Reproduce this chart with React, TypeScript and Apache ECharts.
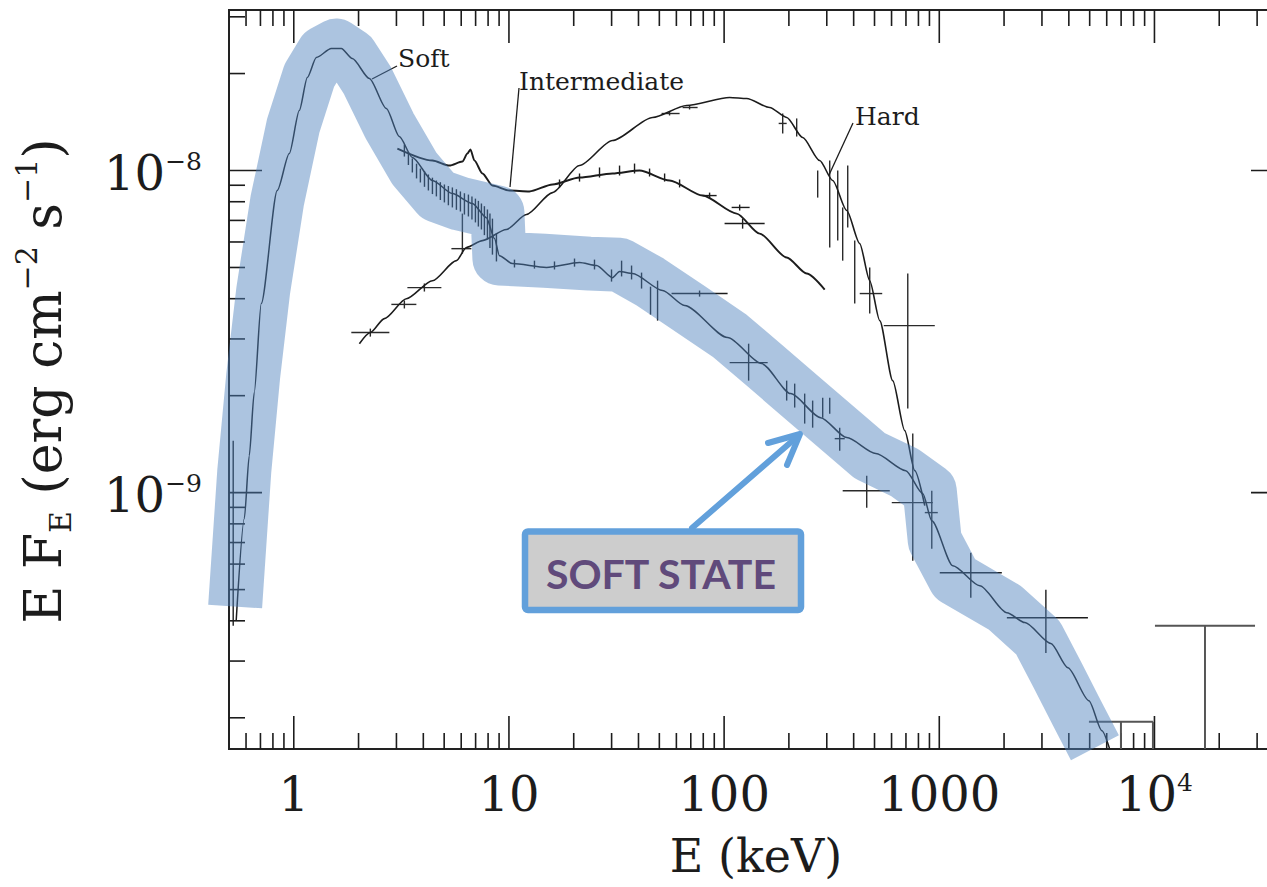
import React, { useEffect, useRef } from "react";
import * as echarts from "echarts";

// ---------- axis ranges ----------
const X_MIN = 0.5;
const X_MAX = 4e4;
const Y_MIN = 1.6e-10;
const Y_MAX = 3.15e-8;

// ---------- ticks & tick labels ----------
const xMajorTicks = [1, 10, 100, 1000, 10000];
const xMinorTicks = [
  0.6, 0.7, 0.8, 0.9,
  2, 3, 4, 5, 6, 7, 8, 9,
  20, 30, 40, 50, 60, 70, 80, 90,
  200, 300, 400, 500, 600, 700, 800, 900,
  2000, 3000, 4000, 5000, 6000, 7000, 8000, 9000,
  20000, 30000,
];
const yMajorTicks = [1e-9, 1e-8];
const yMinorTicks = [
  2e-10, 3e-10, 4e-10, 5e-10, 6e-10, 7e-10, 8e-10, 9e-10,
  2e-9, 3e-9, 4e-9, 5e-9, 6e-9, 7e-9, 8e-9, 9e-9,
  2e-8, 3e-8,
];
const xLabelValues = [1, 10, 100, 1000, 10000];
const xLabelBase = ["1", "10", "100", "1000", "10"];
const xLabelExp = ["", "", "", "", "4"];
const yLabelValues = [1e-9, 1e-8];
const yLabelBase = ["10", "10"];
const yLabelExp = ["\u22129", "\u22128"];

// ---------- model curves (E in keV, E F_E in erg cm^-2 s^-1) ----------
const softE = [0.54, 0.589, 0.621, 0.655, 0.706, 0.838, 0.953, 1.061, 1.156, 1.273, 1.494, 1.663, 1.871, 2.245, 2.693, 3.095, 3.557, 4.409, 5.459, 6.765, 7.857, 8.563, 9.034, 10.38, 14.94, 21.28, 25.53, 30.29, 32.66, 37.54, 51.76, 65.52, 103.8, 149.4, 203.9, 281.0, 371.4, 506.8, 698.6, 838.1, 922.8, 1156, 1543, 2061, 2500, 3301, 3960, 4960, 5700, 6210];
const softF = [4.0e-10, 8.31e-10, 1.302e-9, 2.044e-9, 3.864e-9, 8.67e-9, 1.129e-8, 1.536e-8, 1.944e-8, 2.243e-8, 2.392e-8, 2.392e-8, 2.227e-8, 1.931e-8, 1.558e-8, 1.275e-8, 1.098e-8, 9.31e-9, 8.48e-9, 7.9e-9, 7.14e-9, 6.15e-9, 5.44e-9, 5.14e-9, 5.0e-9, 5.18e-9, 5.07e-9, 4.65e-9, 4.86e-9, 4.79e-9, 4.24e-9, 3.81e-9, 3.03e-9, 2.515e-9, 2.03e-9, 1.709e-9, 1.482e-9, 1.322e-9, 1.17e-9, 9.93e-10, 8.18e-10, 5.93e-10, 5.14e-10, 4.24e-10, 3.95e-10, 3.4e-10, 2.86e-10, 2.26e-10, 1.823e-10, 1.592e-10];

const interE = [3.03, 4.409, 5.287, 6.076, 6.412, 6.622, 6.912, 7.53, 8.381, 10.05, 12.45, 15.94, 21.28, 30.29, 40.46, 55.78, 79.43, 114.3, 146.3, 195.3, 241.9, 293.4];
const interF = [1.17e-8, 1.074e-8, 1.036e-8, 1.066e-8, 1.129e-8, 1.162e-8, 1.074e-8, 9.79e-9, 8.98e-9, 8.67e-9, 8.61e-9, 9.05e-9, 9.51e-9, 9.79e-9, 1.0e-8, 9.31e-9, 8.36e-9, 7.35e-9, 6.37e-9, 5.37e-9, 4.79e-9, 4.27e-9];

const hardE = [2.018, 2.269, 2.636, 3.336, 4.409, 5.698, 6.343, 7.53, 9.73, 12.06, 15.94, 21.28, 30.29, 46.5, 66.93, 106.1, 127.3, 162.8, 195.3, 231.8, 278.0, 319.6, 371.4, 426.8, 475.0, 528.7, 607.6, 691, 769.2, 856.3];
const hardF = [2.9e-9, 3.14e-9, 3.47e-9, 4.0e-9, 4.55e-9, 5.25e-9, 5.77e-9, 6.06e-9, 6.56e-9, 7.3e-9, 8.54e-9, 1.036e-8, 1.239e-8, 1.461e-8, 1.591e-8, 1.685e-8, 1.673e-8, 1.569e-8, 1.461e-8, 1.266e-8, 1.074e-8, 9.31e-9, 7.51e-9, 5.93e-9, 4.55e-9, 3.42e-9, 2.227e-9, 1.558e-9, 1.17e-9, 9.11e-10];

// ---------- highlighted soft-state band ----------
const bandE = [0.534, 0.589, 0.648, 0.721, 0.838, 0.995, 1.181, 1.371, 1.576, 1.851, 2.197, 2.781, 3.635, 4.65, 5.886, 8.84, 9.03, 14.63, 23.68, 32.66, 45.03, 69.1, 106.1, 154.3, 224.5, 326.6, 475.0, 691, 903, 953, 1181, 2017, 2872, 3557, 4360, 5288];
const bandF = [4.43e-10, 1.17e-9, 2.309e-9, 4.24e-9, 8.07e-9, 1.38e-8, 1.972e-8, 2.325e-8, 2.444e-8, 2.276e-8, 1.904e-8, 1.38e-8, 1.014e-8, 8.36e-9, 7.9e-9, 7.41e-9, 5.33e-9, 5.25e-9, 5.14e-9, 5.1e-9, 4.52e-9, 3.73e-9, 3.07e-9, 2.48e-9, 2.0e-9, 1.614e-9, 1.302e-9, 1.154e-9, 1.014e-9, 7.09e-10, 5.41e-10, 4.39e-10, 3.55e-10, 2.7e-10, 2.07e-10, 1.614e-10];

// ---------- data points: [E, F, Elo, Ehi, Flo, Fhi] ----------
const softPoints = [
  [0.523, 7.62e-10, 0.523, 0.523, 3.86e-10, 1.45e-9],
  [3.266, 1.154e-8, 3.266, 3.266, 1.105e-8, 1.204e-8],
  [3.41, 1.09e-8, 3.41, 3.41, 1.04e-8, 1.14e-8],
  [3.557, 1.036e-8, 3.557, 3.557, 9.86e-9, 1.09e-8],
  [3.72, 9.95e-9, 3.72, 3.72, 9.45e-9, 1.05e-8],
  [3.876, 9.65e-9, 3.876, 3.876, 9.18e-9, 1.014e-8],
  [4.05, 9.4e-9, 4.05, 4.05, 8.9e-9, 9.95e-9],
  [4.223, 9.18e-9, 4.223, 4.223, 8.67e-9, 9.72e-9],
  [4.41, 8.98e-9, 4.41, 4.41, 8.45e-9, 9.5e-9],
  [4.6, 8.79e-9, 4.6, 4.6, 8.31e-9, 9.31e-9],
  [4.8, 8.62e-9, 4.8, 4.8, 8.1e-9, 9.2e-9],
  [5.012, 8.48e-9, 5.012, 5.012, 7.96e-9, 9.05e-9],
  [5.23, 8.36e-9, 5.23, 5.23, 7.8e-9, 8.95e-9],
  [5.459, 8.24e-9, 5.459, 5.459, 7.68e-9, 8.86e-9],
  [5.7, 8.12e-9, 5.7, 5.7, 7.55e-9, 8.75e-9],
  [5.949, 8.01e-9, 5.949, 5.949, 7.46e-9, 8.61e-9],
  [6.21, 7.9e-9, 6.21, 6.21, 7.3e-9, 8.5e-9],
  [6.481, 7.79e-9, 6.481, 6.481, 7.2e-9, 8.42e-9],
  [6.73, 7.65e-9, 6.73, 6.73, 7.05e-9, 8.3e-9],
  [6.986, 7.51e-9, 6.986, 6.986, 6.9e-9, 8.18e-9],
  [7.21, 7.35e-9, 7.21, 7.21, 6.7e-9, 8.05e-9],
  [7.449, 7.2e-9, 7.449, 7.449, 6.56e-9, 7.9e-9],
  [7.69, 7.0e-9, 7.69, 7.69, 6.3e-9, 7.75e-9],
  [7.943, 6.8e-9, 7.943, 7.943, 6.11e-9, 7.57e-9],
  [8.16, 6.5e-9, 8.16, 8.16, 5.75e-9, 7.35e-9],
  [8.381, 6.24e-9, 8.381, 8.381, 5.48e-9, 7.09e-9],
  [8.748, 5.77e-9, 8.748, 8.748, 5.22e-9, 6.37e-9],
  [10.61, 5.14e-9, 10.61, 10.61, 5.0e-9, 5.29e-9],
  [13.14, 5.1e-9, 13.14, 13.14, 4.96e-9, 5.25e-9],
  [16.28, 5.07e-9, 16.28, 16.28, 4.93e-9, 5.22e-9],
  [20.17, 5.18e-9, 20.17, 20.17, 5.03e-9, 5.33e-9],
  [24.98, 5.1e-9, 24.98, 24.98, 4.93e-9, 5.29e-9],
  [29.97, 4.72e-9, 29.97, 29.97, 4.52e-9, 4.93e-9],
  [33.38, 4.96e-9, 33.38, 33.38, 4.69e-9, 5.25e-9],
  [37.14, 4.82e-9, 37.14, 37.14, 4.59e-9, 5.07e-9],
  [41.33, 4.55e-9, 41.33, 41.33, 4.3e-9, 4.82e-9],
  [45.5, 3.95e-9, 45.5, 45.5, 3.57e-9, 4.36e-9],
  [49.06, 3.95e-9, 49.06, 49.06, 3.42e-9, 4.55e-9],
  [76.9, 4.15e-9, 56.98, 103.8, 4.06e-9, 4.24e-9],
  [130.0, 2.533e-9, 106.1, 159.4, 2.227e-9, 2.9e-9],
  [195.3, 2.074e-9, 195.3, 195.3, 1.931e-9, 2.227e-9],
  [212.8, 2.0e-9, 212.8, 212.8, 1.837e-9, 2.18e-9],
  [236.8, 1.824e-9, 236.8, 236.8, 1.638e-9, 2.03e-9],
  [257.9, 1.759e-9, 257.9, 257.9, 1.591e-9, 1.931e-9],
  [287.2, 1.837e-9, 287.2, 287.2, 1.709e-9, 1.972e-9],
  [309.6, 1.864e-9, 309.6, 309.6, 1.759e-9, 1.972e-9],
  [344.5, 1.471e-9, 326.6, 363.5, 1.35e-9, 1.591e-9],
  [1401, 5.64e-10, 1005, 1953, 4.72e-10, 6.51e-10],
  [3129, 4.09e-10, 2061, 4907, 3.18e-10, 4.999e-10],
];
const hardPoints = [
  [2.269, 3.14e-9, 1.851, 2.781, 3.05e-9, 3.23e-9],
  [3.266, 3.84e-9, 2.841, 3.713, 3.73e-9, 3.95e-9],
  [4.046, 4.33e-9, 3.373, 4.853, 4.21e-9, 4.46e-9],
  [6.076, 5.72e-9, 5.402, 6.69, 5.52e-9, 7.35e-9],
  [55.78, 1.503e-8, 51.2, 62.1, 1.482e-8, 1.525e-8],
  [69.1, 1.569e-8, 64.1, 75.3, 1.547e-8, 1.591e-8],
  [187.2, 1.4e-8, 179.3, 195.3, 1.303e-8, 1.503e-8],
  [217.4, 1.35e-8, 217.4, 217.4, 1.275e-8, 1.451e-8],
  [272.2, 9.11e-9, 272.2, 272.2, 8.24e-9, 1.0e-8],
  [309.6, 7.79e-9, 309.6, 309.6, 5.77e-9, 1.074e-8],
  [337.3, 8.07e-9, 337.3, 337.3, 6.06e-9, 1.0e-8],
  [355.7, 6.37e-9, 355.7, 355.7, 5.25e-9, 7.68e-9],
  [375.4, 8.36e-9, 375.4, 375.4, 6.65e-9, 1.036e-8],
  [404.6, 4.82e-9, 404.6, 404.6, 3.864e-9, 6.06e-9],
  [475.0, 4.15e-9, 426.8, 543, 3.6e-9, 5.0e-9],
  [713.7, 3.3e-9, 552, 953, 1.824e-9, 4.79e-9],
  [460, 1.014e-9, 355.7, 588.7, 8.98e-10, 1.129e-9],
  [752.9, 9.31e-10, 601.4, 932.8, 6.15e-10, 1.525e-9],
  [922.8, 8.67e-10, 856.3, 984, 6.7e-10, 1.014e-9],
];
const interPoints = [
  [121.9, 6.85e-9, 100.5, 154.3, 6.6e-9, 7.09e-9],
  [118.1, 7.68e-9, 108.4, 131.4, 7.51e-9, 7.84e-9],
  [85.6, 8.36e-9, 79.4, 92.3, 8.18e-9, 8.54e-9],
  [17.18, 9.11e-9, 17.18, 17.18, 8.86e-9, 9.38e-9],
  [21.28, 9.51e-9, 21.28, 21.28, 9.24e-9, 9.79e-9],
  [26.36, 9.86e-9, 26.36, 26.36, 9.51e-9, 1.022e-8],
  [32.66, 1.0e-8, 32.66, 32.66, 9.65e-9, 1.036e-8],
  [38.34, 1.014e-8, 38.34, 38.34, 9.79e-9, 1.051e-8],
  [45.03, 9.86e-9, 45.03, 45.03, 9.58e-9, 1.014e-8],
  [52.9, 9.51e-9, 52.9, 52.9, 9.24e-9, 9.79e-9],
  [62.1, 9.11e-9, 62.1, 62.1, 8.86e-9, 9.38e-9],
];
// upper limits: [E of arrow, F top, Elo, Ehi]
const upperLimits = [
  [17170, 3.86e-10, 10054, 29340],
  [6987, 1.944e-10, 4960, 9840],
  [9840, 1.944e-10, 9840, 9840],
];

const SERIF = "'DejaVu Serif', 'Liberation Serif', serif";
const INK = "#1c1c1c";
const BLUE = "#62A0DB";

const al = (h: string, v: string) => ({ align: h, textAlign: h, verticalAlign: v, textVerticalAlign: v });

export default function App() {
  const ref = useRef<HTMLDivElement>(null);

  useEffect(() => {
    document.body.style.margin = "0";
    document.body.style.overflow = "hidden";
    const chart = echarts.init(ref.current!, null, { renderer: "svg" });

    const pairs = (xs: number[], ys: number[]) => xs.map((x, i) => [x, ys[i]]);

    const tickSeries = (vals: number[], axis: "x" | "y", len: number) => ({
      type: "custom",
      coordinateSystem: "cartesian2d",
      clip: false,
      silent: true,
      z: 3,
      data: vals.map((v) => (axis === "x" ? [v, Y_MIN] : [X_MIN, v])),
      renderItem: (params: any, api: any) => {
        const st = { stroke: INK, lineWidth: 1.6 };
        if (axis === "x") {
          const v = api.value(0);
          const b = api.coord([v, Y_MIN]);
          const t = api.coord([v, Y_MAX]);
          return {
            type: "group",
            children: [
              { type: "line", shape: { x1: b[0], y1: b[1], x2: b[0], y2: b[1] - len }, style: st },
              { type: "line", shape: { x1: t[0], y1: t[1], x2: t[0], y2: t[1] + len }, style: st },
            ],
          };
        }
        const v = api.value(1);
        const l = api.coord([X_MIN, v]);
        const r = api.coord([X_MAX, v]);
        return {
          type: "group",
          children: [
            { type: "line", shape: { x1: l[0], y1: l[1], x2: l[0] + len, y2: l[1] }, style: st },
            { type: "line", shape: { x1: r[0], y1: r[1], x2: r[0] - len, y2: r[1] }, style: st },
          ],
        };
      },
    });

    const tickRich = {
      b: { fontFamily: SERIF, fontSize: 48, lineHeight: 48, fill: INK },
      s: { fontFamily: SERIF, fontSize: 25, lineHeight: 25, verticalAlign: "top", fill: INK },
    };

    const errSeries = (pts: number[][], color: string, width: number) => ({
      type: "custom",
      coordinateSystem: "cartesian2d",
      silent: true,
      z: 3,
      data: pts,
      renderItem: (params: any, api: any) => {
        const e = api.value(0), f = api.value(1);
        const l = api.coord([api.value(2), f]);
        const r = api.coord([api.value(3), f]);
        const b = api.coord([e, api.value(4)]);
        const t = api.coord([e, api.value(5)]);
        const st = { stroke: color, lineWidth: width };
        const children: any[] = [];
        if (r[0] - l[0] > 0.5) children.push({ type: "line", shape: { x1: l[0], y1: l[1], x2: r[0], y2: r[1] }, style: st });
        children.push({ type: "line", shape: { x1: b[0], y1: b[1], x2: t[0], y2: t[1] }, style: st });
        return { type: "group", children };
      },
    });

    const curve = (xs: number[], ys: number[], name: string, w: number) => ({
      name,
      type: "line",
      data: pairs(xs, ys),
      symbol: "none",
      smooth: 0.25,
      smoothMonotone: "x",
      silent: true,
      z: 3,
      lineStyle: { color: INK, width: w },
    });

    chart.setOption({
      animation: false,
      grid: {
        left: 229,
        top: 10,
        width: 1055,
        height: 739,
        show: true,
        borderColor: "#222",
        borderWidth: 2,
        backgroundColor: "transparent",
        containLabel: false,
        outerBoundsMode: "none",
      },
      xAxis: {
        type: "log",
        logBase: 10,
        min: X_MIN,
        max: X_MAX,
        axisLine: { show: false },
        axisTick: { show: false },
        axisLabel: { show: false },
        splitLine: { show: false },
        minorTick: { show: false },
      },
      yAxis: {
        type: "log",
        logBase: 10,
        min: Y_MIN,
        max: Y_MAX,
        axisLine: { show: false },
        axisTick: { show: false },
        axisLabel: { show: false },
        splitLine: { show: false },
        minorTick: { show: false },
      },
      series: [
        tickSeries(xMinorTicks, "x", 16),
        tickSeries(xMajorTicks, "x", 33),
        tickSeries(yMinorTicks, "y", 16),
        tickSeries(yMajorTicks, "y", 33),
        {
          type: "custom",
          coordinateSystem: "cartesian2d",
          clip: false,
          silent: true,
          z: 4,
          data: xLabelValues.map((v) => [v, Y_MIN]),
          renderItem: (params: any, api: any) => {
            const i = params.dataIndex;
            const p = api.coord([api.value(0), Y_MIN]);
            const exp = xLabelExp[i];
            const text = exp ? `{b|${xLabelBase[i]}}{s|${exp}}` : `{b|${xLabelBase[i]}}`;
            return { type: "text", x: p[0], y: p[1] + 45, style: { text, rich: tickRich, ...al("center", "middle") } };
          },
        },
        {
          type: "custom",
          coordinateSystem: "cartesian2d",
          clip: false,
          silent: true,
          z: 4,
          data: yLabelValues.map((v) => [X_MIN, v]),
          renderItem: (params: any, api: any) => {
            const i = params.dataIndex;
            const p = api.coord([X_MIN, api.value(1)]);
            const text = `{b|${yLabelBase[i]}}{s|${yLabelExp[i]}}`;
            return { type: "text", x: p[0] - 27, y: p[1] + 2, style: { text, rich: tickRich, ...al("right", "middle") } };
          },
        },
        curve(softE, softF, "Soft", 1.5),
        curve(interE, interF, "Intermediate", 1.9),
        curve(hardE, hardF, "Hard", 1.6),
        errSeries(softPoints, INK, 1.4),
        errSeries(interPoints, INK, 1.4),
        errSeries(hardPoints, "#2a2a2a", 1.4),
        {
          type: "custom",
          coordinateSystem: "cartesian2d",
          silent: true,
          z: 3,
          data: upperLimits,
          renderItem: (params: any, api: any) => {
            const e = api.value(0), f = api.value(1);
            const l = api.coord([api.value(2), f]);
            const r = api.coord([api.value(3), f]);
            const t = api.coord([e, f]);
            const b = api.coord([e, Y_MIN]);
            const st = { stroke: "#555", lineWidth: 2 };
            return {
              type: "group",
              children: [
                { type: "line", shape: { x1: l[0], y1: l[1], x2: r[0], y2: r[1] }, style: st },
                { type: "line", shape: { x1: t[0], y1: t[1], x2: b[0], y2: b[1] }, style: st },
              ],
            };
          },
        },
        {
          name: "band",
          type: "line",
          data: pairs(bandE, bandF),
          symbol: "none",
          clip: false,
          silent: true,
          z: 5,
          lineStyle: { color: "rgba(79,129,189,0.47)", width: 54, cap: "butt", join: "round" },
        },
      ],
      graphic: [
        {
          type: "text",
          x: 43,
          y: 381,
          rotation: Math.PI / 2,
          z: 4,
          style: {
            text: "{m|E F}{sb|E}{m| (erg cm}{sp|\u22122}{m| s}{sp|\u22121}{m|)}",
            rich: {
              m: { fontFamily: SERIF, fontSize: 52, lineHeight: 64, fill: INK },
              sb: { fontFamily: SERIF, fontSize: 30, lineHeight: 24, verticalAlign: "bottom", fill: INK },
              sp: { fontFamily: SERIF, fontSize: 30, lineHeight: 30, verticalAlign: "top", fill: INK },
            },
            ...al("center", "middle"),
          },
        },
        {
          type: "text",
          x: 756,
          y: 856,
          z: 4,
          style: { text: "E (keV)", fontFamily: SERIF, fontSize: 46, fill: INK, ...al("center", "middle") },
        },
        { type: "line", z: 4, shape: { x1: 372, y1: 79, x2: 397, y2: 66 }, style: { stroke: INK, lineWidth: 1.3 } },
        { type: "line", z: 4, shape: { x1: 510, y1: 187, x2: 519, y2: 88 }, style: { stroke: INK, lineWidth: 1.3 } },
        { type: "line", z: 4, shape: { x1: 829, y1: 175, x2: 853, y2: 123 }, style: { stroke: INK, lineWidth: 1.3 } },
        { type: "text", x: 398, y: 58, z: 4, style: { text: "Soft", fontFamily: SERIF, fontSize: 25, fill: INK, ...al("left", "middle") } },
        { type: "text", x: 519, y: 81, z: 4, style: { text: "Intermediate", fontFamily: SERIF, fontSize: 25, fill: INK, ...al("left", "middle") } },
        { type: "text", x: 855, y: 116, z: 4, style: { text: "Hard", fontFamily: SERIF, fontSize: 25, fill: INK, ...al("left", "middle") } },
        { type: "line", z: 10, shape: { x1: 692, y1: 528, x2: 798, y2: 436 }, style: { stroke: BLUE, lineWidth: 6, lineCap: "round" } },
        {
          type: "polyline",
          z: 10,
          shape: { points: [[768, 443], [800, 434], [787, 465]] },
          style: { stroke: BLUE, lineWidth: 6, lineCap: "round", lineJoin: "round", fill: null },
        },
        {
          type: "rect",
          z: 10,
          shape: { x: 525, y: 531.5, width: 276, height: 78.5, r: 3 },
          style: { fill: "#CDCDCD", stroke: BLUE, lineWidth: 6.5 },
        },
        {
          type: "text",
          x: 661,
          y: 573,
          z: 11,
          style: {
            text: "SOFT STATE",
            fontFamily: "Lato, 'Open Sans', sans-serif",
            fontWeight: "bold",
            fontSize: 41,
            fill: "#604A7B",
            ...al("center", "middle"),
          },
        },
      ],
    });

    return () => chart.dispose();
  }, []);

  return (
    <div style={{ position: "fixed", left: 0, top: 0, width: 1267, height: 887, overflow: "hidden", background: "#fff" }}>
      <div ref={ref} style={{ width: 1300, height: 887 }} />
    </div>
  );
}
